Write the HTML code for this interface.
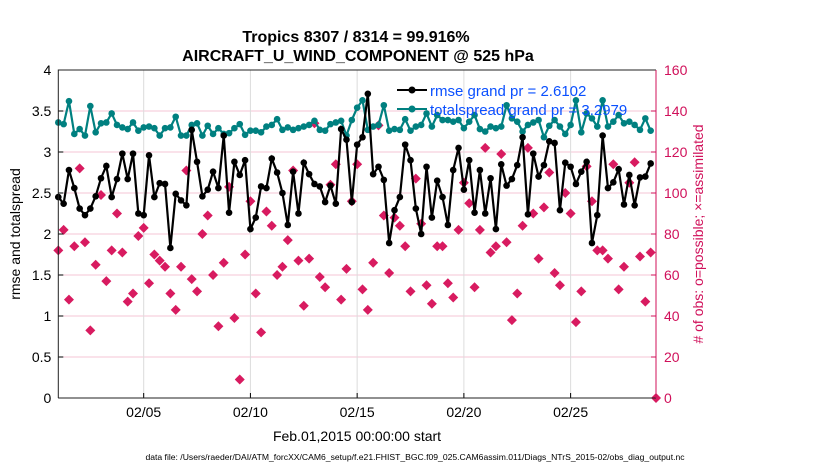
<!DOCTYPE html>
<html><head><meta charset="utf-8"><style>
body{margin:0;background:#fff;width:830px;height:470px;overflow:hidden}
svg{font-family:"Liberation Sans",sans-serif}
</style></head><body>
<svg id="chart" width="830" height="470">
<text x="356" y="42" text-anchor="middle" font-size="16" font-weight="bold">Tropics 8307 / 8314 = 99.916%</text>
<text x="358" y="61" text-anchor="middle" font-size="16" font-weight="bold">AIRCRAFT_U_WIND_COMPONENT @ 525 hPa</text>
<g id="grid"></g>
<g id="obs"></g>
<g id="spread"></g>
<g id="rmse"></g>
<g id="axes"></g>
<g>
<line x1="397" y1="90" x2="427" y2="90" stroke="#000" stroke-width="2"/><circle cx="412" cy="90" r="3.5" fill="#000"/>
<text x="430" y="96" font-size="15" fill="#0a50ff">rmse grand pr = 2.6102</text>
<line x1="397" y1="109" x2="427" y2="109" stroke="#008080" stroke-width="2"/><circle cx="412" cy="109" r="3.5" fill="#008080"/>
<text x="430" y="115" font-size="15" fill="#0a50ff">totalspread grand pr = 3.2979</text>
</g>
<text transform="translate(20,234) rotate(-90)" text-anchor="middle" font-size="14">rmse and totalspread</text>
<text transform="translate(703,234) rotate(-90)" text-anchor="middle" font-size="14" fill="#d0105a"># of obs: o=possible; ×=assimilated</text>
<text x="357" y="441" text-anchor="middle" font-size="14">Feb.01,2015 00:00:00 start</text>
<text x="415" y="460" text-anchor="middle" font-size="8.6">data file: /Users/raeder/DAI/ATM_forcXX/CAM6_setup/f.e21.FHIST_BGC.f09_025.CAM6assim.011/Diags_NTrS_2015-02/obs_diag_output.nc</text>
</svg>
<script>
const rmse=[2.45,2.37,2.78,2.56,2.31,2.23,2.31,2.46,2.68,2.83,2.45,2.67,2.98,2.67,2.98,2.25,2.23,2.96,2.45,2.62,2.61,1.83,2.49,2.41,2.35,3.27,2.88,2.46,2.54,2.76,2.56,3.2,2.26,2.88,2.72,2.9,2.06,2.2,2.58,2.56,2.92,2.75,2.5,2.11,2.76,2.25,2.87,2.73,2.61,2.58,2.39,2.59,2.37,3.28,3.15,2.39,3.09,3.18,3.71,2.73,2.82,2.66,1.89,2.29,2.45,3.09,2.9,2.31,2.0,2.82,2.2,2.65,2.45,2.11,2.78,3.05,2.54,2.9,2.26,2.78,2.25,2.68,2.06,2.85,2.59,2.67,2.84,3.18,2.24,2.98,2.7,2.84,3.13,3.11,2.29,2.87,2.82,2.61,2.76,2.88,1.89,2.23,3.2,2.56,2.63,2.79,2.36,2.72,2.35,2.69,2.7,2.86];
const spread=[3.36,3.34,3.62,3.22,3.28,3.2,3.56,3.24,3.35,3.36,3.47,3.33,3.3,3.28,3.36,3.26,3.3,3.31,3.29,3.2,3.29,3.3,3.43,3.2,3.2,3.33,3.35,3.2,3.32,3.22,3.29,3.22,3.23,3.29,3.34,3.21,3.26,3.26,3.24,3.31,3.33,3.4,3.27,3.3,3.27,3.29,3.31,3.33,3.38,3.27,3.26,3.34,3.36,3.38,3.2,3.39,3.54,3.63,3.27,3.31,3.33,3.57,3.26,3.28,3.27,3.4,3.26,3.31,3.33,3.47,3.31,3.45,3.39,3.39,3.37,3.39,3.29,3.37,3.45,3.28,3.25,3.31,3.29,3.31,3.57,3.41,3.37,3.25,3.33,3.36,3.39,3.18,3.32,3.39,3.31,3.22,3.33,3.63,3.24,3.47,3.41,3.31,3.63,3.31,3.37,3.45,3.35,3.37,3.33,3.27,3.41,3.26];
const obsCount=[72,82,48,74,112,76,33,65,99,57,72,90,71,47,51,79,83,56,70,67,64,51,43,64,111,58,52,80,89,60,35,66,103,39,9,70,96,51,32,91,84,60,64,77,111,67,45,68,134,59,54,104,114,48,63,96,114,53,43,66,133,89,61,88,84,74,52,107,85,55,46,74,74,56,49,82,105,95,54,82,122,71,74,119,76,38,51,84,122,90,68,93,110,61,55,100,90,37,52,113,96,72,72,68,114,53,64,105,115,69,47,71,0];
const leftTicks=[0,0.5,1,1.5,2,2.5,3,3.5,4];
const rightTicks=[0,20,40,60,80,100,120,140,160];
const xTickDays=[4,9,14,19,24];
const xTickLabels=["02/05","02/10","02/15","02/20","02/25"];
const stepDays=0.25;

const NS="http://www.w3.org/2000/svg";
const L=58.3,R=656,T=70,B=398;
const xs=d=>L+(d/28)*(R-L);
const yl=v=>B-(v/4)*(B-T);
const yr=v=>B-(v/160)*(B-T);
function mk(tag,attrs,parent){const e=document.createElementNS(NS,tag);for(const k in attrs)e.setAttribute(k,attrs[k]);parent.appendChild(e);return e;}
const grid=document.getElementById('grid'),axes=document.getElementById('axes');
rightTicks.forEach(v=>{if(v>0&&v<160){const g=mk('line',{x1:L,x2:R,y1:yr(v),y2:yr(v),stroke:'#f4c6d6','stroke-width':1},grid);

}});
xTickDays.forEach((d,i)=>{const g=mk('line',{x1:xs(d),x2:xs(d),y1:T,y2:B,stroke:'#dcdcdc','stroke-width':1},grid);


mk('line',{x1:xs(d),x2:xs(d),y1:B,y2:B-5,stroke:'#000'},axes);
const t=mk('text',{x:xs(d),y:B+19,'text-anchor':'middle','font-size':14},axes);t.textContent=xTickLabels[i];

});
leftTicks.forEach(v=>{mk('line',{x1:L,x2:L+5,y1:yl(v),y2:yl(v),stroke:'#000'},axes);
const t=mk('text',{x:L-7,y:yl(v)+5,'text-anchor':'end','font-size':14},axes);t.textContent=String(v);

});
rightTicks.forEach(v=>{mk('line',{x1:R,x2:R-5,y1:yr(v),y2:yr(v),stroke:'#d0105a'},axes);
const t=mk('text',{x:R+8,y:yr(v)+5,'font-size':14,fill:'#d0105a'},axes);t.textContent=String(v);

});
mk('polyline',{points:`${L},${B} ${L},${T} ${R},${T}`,fill:'none',stroke:'#222','stroke-width':1},axes);
mk('line',{x1:L,x2:R,y1:B,y2:B,stroke:'#222'},axes);
mk('line',{x1:R,x2:R,y1:T,y2:B,stroke:'#d0105a'},axes);

const og=document.getElementById('obs');
obsCount.forEach((v,i)=>{const x=xs(i*stepDays),y=yr(v);
const p=mk('path',{d:`M${x-5},${y}L${x},${y-5}L${x+5},${y}L${x},${y+5}Z`,fill:'#d81b60'},og);

});
function series(arr,gid,col,name){const g=document.getElementById(gid);
const pl=mk('polyline',{points:arr.map((v,i)=>xs(i*stepDays)+','+yl(v)).join(' '),fill:'none',stroke:col,'stroke-width':2.2},g);


arr.forEach((v,i)=>{const c=mk('circle',{cx:xs(i*stepDays),cy:yl(v),r:3.3,fill:col},g);

});}
series(spread,'spread','#008080','totalspread');
series(rmse,'rmse','#000000','rmse');
</script>
</body></html>
